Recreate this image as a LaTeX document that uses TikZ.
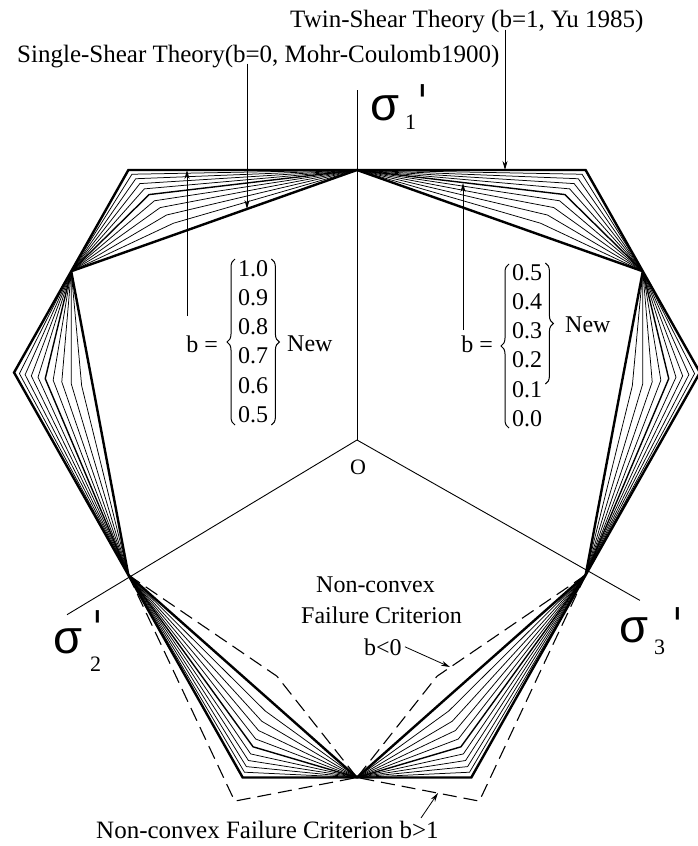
\documentclass[tikz,border=0pt]{standalone}
\usepackage{fontspec}
\setmainfont{Liberation Serif}
\newfontfamily\sigfam{Liberation Sans}
\newfontfamily\primefam{DejaVu Sans}
\usetikzlibrary{arrows.meta,decorations.pathreplacing}
\begin{document}
\begin{tikzpicture}[x=1pt,y=-1pt,
  axisl/.style={line width=0.9pt},
  dashl/.style={line width=1.1pt,dash pattern=on 14pt off 7pt},
  ptrl/.style={line width=0.8pt,-{Stealth[length=9pt,width=5pt]}},
  curly/.style={line width=1pt,decorate,decoration={brace,amplitude=8pt}},
  hdtext/.style={inner sep=0pt,font=\fontsize{25}{28}\selectfont},
  lbtext/.style={inner sep=0pt,font=\fontsize{24}{28}\selectfont},
  numtext/.style={inner sep=0pt,font=\fontsize{24}{29.3}\selectfont},
  sigtext/.style={inner sep=0pt,font=\fontsize{47}{47}\sigfam},
  subtext/.style={inner sep=0pt,font=\fontsize{22}{22}\selectfont},
  primetext/.style={inner sep=0pt,font=\fontsize{46}{46}\primefam},
]
\fill[white] (0,0) rectangle (698,846);
\useasboundingbox (0,0) rectangle (698,846);

% ---------- limit loci ----------
\begin{scope}[shift={(357,440)}, x=264pt, y=270pt]
  \coordinate (O) at (0,0);
  \coordinate (a1) at (90:1.296);
  \coordinate (a2) at (210.5:1.275);
  \coordinate (a3) at (331:1.225);
  \draw[axisl] (O) -- (a1);
  \draw[axisl] (O) -- (a2);
  \draw[axisl] (O) -- (a3);
  \foreach \ta/\va/\ca in {90/130.893/150, 210/169.107/150, 210/250.893/270,
                           330/289.107/270, 330/10.893/30, 90/49.107/30}{
    \foreach \i in {0,...,10}{
      \pgfmathsetmacro\rr{1.32288/(1.3-0.6*\i/(10+\i))}
      \pgfmathsetmacro\lw{(\i==0||\i==10) ? 2.4 : ((\i==5) ? 1.4 : 0.75)}
      \draw[line width=\lw pt, line join=miter] (\ta:1) -- (\va:\rr) -- (\ca:1.25);
    }
  }
  % non-convex criteria
  \draw[dashl] (210:1) -- (250.893:0.926) -- (270:1.25);
  \draw[dashl] (330:1) -- (289.107:0.926) -- (270:1.25);
  \draw[dashl] (210:1) -- (250.893:1.4155) -- (270:1.25);
  \draw[dashl] (330:1) -- (289.107:1.4155) -- (270:1.25);
\end{scope}

% ---------- axis labels ----------
\node[sigtext,anchor=base west] (s1) at (370,120) {σ};
\node[subtext,anchor=base west] (s1sub) at (405,129) {1};
\node[primetext,anchor=north west] (s1pr) at (416,84) {ˈ};
\node[sigtext,anchor=base west] (s2) at (53,653) {σ};
\node[subtext,anchor=base west] (s2sub) at (90,671) {2};
\node[primetext,anchor=north west] (s2pr) at (91,610) {ˈ};
\node[sigtext,anchor=base west] (s3) at (619,642) {σ};
\node[subtext,anchor=base west] (s3sub) at (654,654) {3};
\node[primetext,anchor=north west] (s3pr) at (671,607) {ˈ};
\node[inner sep=0pt,font=\fontsize{22}{22}\selectfont] (olbl) at (358,467) {O};

% ---------- titles and pointers ----------
\node[hdtext,anchor=base west] (twin) at (290,27) {Twin-Shear Theory (b=1, Yu 1985)};
\node[hdtext,anchor=base west] (single) at (17,62) {Single-Shear Theory(b=0, Mohr-Coulomb1900)};
\coordinate (tspt) at (505,170);
\coordinate (mcpt) at (247,209);
\draw[ptrl] ([yshift=3pt]twin.south -| tspt) -- (tspt);
\draw[ptrl] ([yshift=4pt]single.south -| mcpt) -- (mcpt);

% ---------- b groups ----------
\node[lbtext,anchor=base east] (bL) at (218,352) {b =};
\node[numtext,anchor=base west] (valL) at (238,276)
  {\begin{tabular}[t]{@{}l@{}}1.0\\0.9\\0.8\\0.7\\0.6\\0.5\end{tabular}};
\draw[curly] ([xshift=-3pt]valL.west |- 0,425) -- ([xshift=-3pt]valL.west |- 0,259);
\draw[curly] ([xshift=3pt]valL.east |- 0,259) -- ([xshift=3pt]valL.east |- 0,425);
\node[lbtext,anchor=base west] (newL) at (287,351) {New};
\coordinate (lpbot) at (187,316);
\coordinate (lptop) at (187,170);
\draw[ptrl] (lpbot) -- (lptop);

\node[lbtext,anchor=base east] (bR) at (493,352) {b =};
\node[numtext,anchor=base west] (valR) at (512,280)
  {\begin{tabular}[t]{@{}l@{}}0.5\\0.4\\0.3\\0.2\\0.1\\0.0\end{tabular}};
\draw[curly] ([xshift=-3pt]valR.west |- 0,428) -- ([xshift=-3pt]valR.west |- 0,264);
\draw[curly] ([xshift=3pt]valR.east |- 0,263) -- ([xshift=3pt]valR.east |- 0,384);
\node[lbtext,anchor=base west] (newR) at (565,332) {New};
\coordinate (rpbot) at (463,330);
\coordinate (rptop) at (463,183);
\draw[ptrl] (rpbot) -- (rptop);

% ---------- non-convex labels ----------
\node[lbtext,anchor=base east] (nonc) at (435,592) {Non-convex};
\node[lbtext,anchor=base east] (failc) at (462,623) {Failure Criterion};
\node[lbtext,anchor=base west] (bneg) at (364,655) {b<0};
\coordinate (bnegpt) at (450,667);
\draw[ptrl] ([xshift=3pt]bneg.east) -- (bnegpt);

\node[hdtext,anchor=base west] (ncbot) at (96,838) {Non-convex Failure Criterion b>1};
\coordinate (bposfrom) at (421,818);
\coordinate (bpospt) at (438,793);
\draw[ptrl] (bposfrom) -- (bpospt);
\end{tikzpicture}
\end{document}
